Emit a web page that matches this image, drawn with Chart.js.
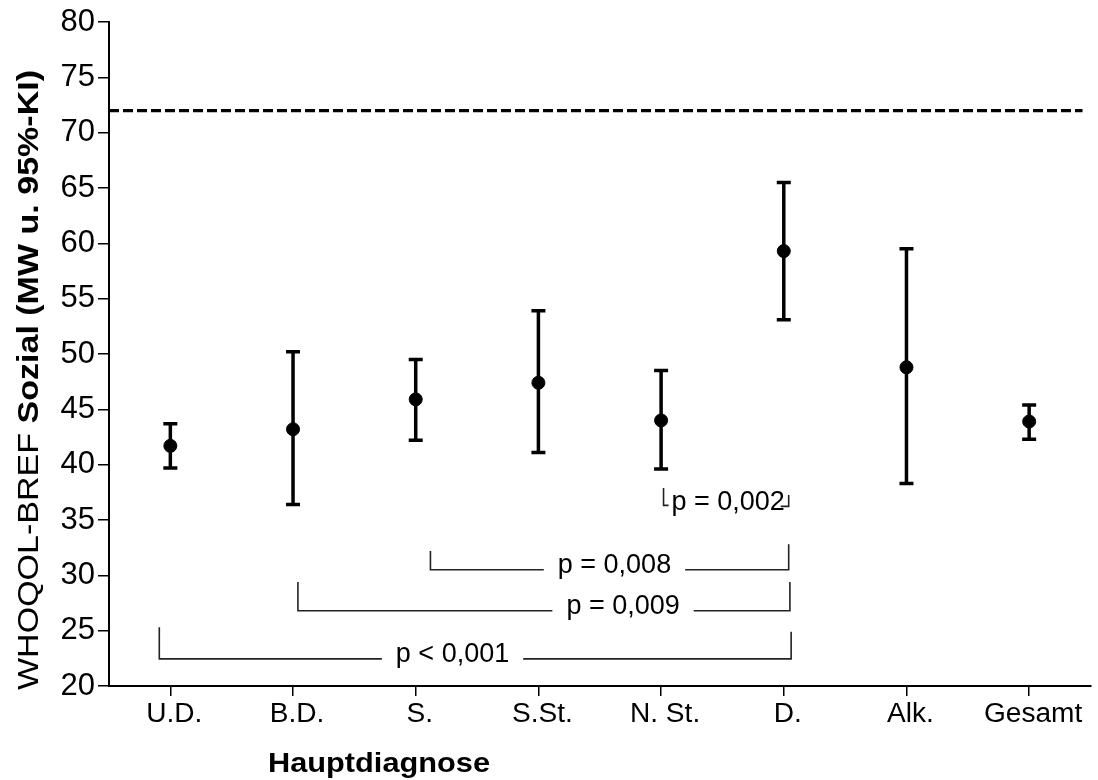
<!DOCTYPE html>
<html lang="de">
<head>
<meta charset="UTF-8">
<title>WHOQOL-BREF Sozial nach Hauptdiagnose</title>
<script src="https://cdn.jsdelivr.net/npm/chart.js"></script>
<style>
  body { margin: 0; background: #fff; }
  #wrap { width: 1098px; height: 780px; }
</style>
</head>
<body>
<div id="wrap"><canvas id="whoqolChart" width="1098" height="780"></canvas></div>
<script>
const categories = ['U.D.', 'B.D.', 'S.', 'S.St.', 'N. St.', 'D.', 'Alk.', 'Gesamt'];
const means   = [41.7, 43.2, 45.9, 47.4, 44.0, 59.3, 48.8, 43.9];
const ciLower = [39.7, 36.4, 42.2, 41.1, 39.6, 53.1, 38.3, 42.3];
const ciUpper = [43.7, 50.2, 49.5, 53.9, 48.5, 65.5, 59.5, 45.4];
const normValue = 72.0;          // dashed reference line
const yMin = 20, yMax = 80, yStep = 5;

// significance brackets (x in category index, y in scale units)
const pLabels   = ['p < 0,001', 'p = 0,009', 'p = 0,008'];
const pFrom     = [-0.09, 1.04, 2.12];
const pTo       = [5.06, 5.05, 5.04];
const pLineY    = [22.45, 26.8, 30.5];
const pTopLeft  = [25.3, 29.4, 32.2];
const pTopRight = [24.9, 29.4, 32.8];
const pTextX    = [2.30, 3.69, 3.62];

// the small one between N. St. and D.
const smallLabel = 'p = 0,002';
const smallFrom = 4.02, smallTo = 5.04, smallY = 36.5, smallTop = 37.9;

const FONT = "'Liberation Sans', Arial, sans-serif";

const overlay = {
    id: 'overlay',
    beforeDatasetsDraw(chart) {
        const { ctx, chartArea, scales: { x, y } } = chart;
        ctx.save();
        ctx.strokeStyle = '#000';

        // reference line
        ctx.lineWidth = 3.2;
        ctx.setLineDash([10, 4]);
        const yn = y.getPixelForValue(normValue);
        ctx.beginPath();
        ctx.moveTo(chartArea.left, yn);
        ctx.lineTo(chartArea.right - 8, yn);
        ctx.stroke();
        ctx.setLineDash([]);

        // error bars
        ctx.lineWidth = 3.5;
        categories.forEach((c, i) => {
            const xp = x.getPixelForValue(i);
            const lo = y.getPixelForValue(ciLower[i]);
            const hi = y.getPixelForValue(ciUpper[i]);
            ctx.beginPath();
            ctx.moveTo(xp, lo); ctx.lineTo(xp, hi);
            ctx.moveTo(xp - 7, lo); ctx.lineTo(xp + 7, lo);
            ctx.moveTo(xp - 7, hi); ctx.lineTo(xp + 7, hi);
            ctx.stroke();
        });

        // brackets
        ctx.lineWidth = 1.6;
        ctx.strokeStyle = '#222';
        ctx.fillStyle = '#000';
        ctx.font = '27px ' + FONT;
        ctx.textAlign = 'center';
        ctx.textBaseline = 'middle';
        pLabels.forEach((lab, i) => {
            const x0 = x.getPixelForValue(pFrom[i]);
            const x1 = x.getPixelForValue(pTo[i]);
            const yl = y.getPixelForValue(pLineY[i]);
            const tx = x.getPixelForValue(pTextX[i]);
            const half = ctx.measureText(lab).width / 2 + 14;
            ctx.beginPath();
            ctx.moveTo(x0, y.getPixelForValue(pTopLeft[i]));
            ctx.lineTo(x0, yl);
            ctx.lineTo(tx - half, yl);
            ctx.moveTo(tx + half, yl);
            ctx.lineTo(x1, yl);
            ctx.lineTo(x1, y.getPixelForValue(pTopRight[i]));
            ctx.stroke();
            ctx.fillText(lab, tx, yl - 4);
        });

        // small bracket p = 0,002
        const sx0 = x.getPixelForValue(smallFrom);
        const sx1 = x.getPixelForValue(smallTo);
        const sy = y.getPixelForValue(smallY);
        const st = y.getPixelForValue(smallTop);
        ctx.beginPath();
        ctx.moveTo(sx0, st); ctx.lineTo(sx0, sy + 2); ctx.lineTo(sx0 + 5, sy + 2);
        ctx.moveTo(sx1, st + 7); ctx.lineTo(sx1, sy + 3); ctx.lineTo(sx1 - 8, sy + 3);
        ctx.stroke();
        ctx.fillText(smallLabel, (sx0 + sx1) / 2 + 2, sy - 1);
        ctx.restore();
    },
    afterDraw(chart) {
        const { ctx, scales: { x } } = chart;
        ctx.save();
        ctx.fillStyle = '#000';

        // x tick labels
        ctx.font = '27px ' + FONT;
        ctx.textAlign = 'center';
        ctx.textBaseline = 'alphabetic';
        categories.forEach((c, i) => {
            ctx.save();
            ctx.translate(x.getPixelForValue(i) + 4, 722);
            ctx.scale(1.04, 1);
            ctx.fillText(c, 0, 0);
            ctx.restore();
        });

        // x axis title
        ctx.font = 'bold 28px ' + FONT;
        const xt = 'Hauptdiagnose';
        ctx.save();
        ctx.translate(379, 772);
        ctx.scale(222 / ctx.measureText(xt).width, 1);
        ctx.fillText(xt, 0, 0);
        ctx.restore();

        // y axis title, normal + bold part
        const t1 = 'WHOQOL-BREF ', t2 = 'Sozial (MW u. 95%-KI)';
        ctx.font = '30px ' + FONT;
        const w1 = ctx.measureText(t1).width;
        ctx.font = 'bold 30px ' + FONT;
        const w2 = ctx.measureText(t2).width;
        const total = w1 + w2;
        ctx.translate(38, 380);
        ctx.rotate(-Math.PI / 2);
        ctx.scale(620 / total, 1);
        ctx.textAlign = 'left';
        ctx.font = '30px ' + FONT;
        ctx.fillText(t1, -total / 2, 0);
        ctx.font = 'bold 30px ' + FONT;
        ctx.fillText(t2, -total / 2 + w1, 0);
        ctx.restore();
    }
};

const ctx = document.getElementById('whoqolChart').getContext('2d');
new Chart(ctx, {
    type: 'line',
    data: {
        labels: categories,
        datasets: [{
            label: 'Mittelwert',
            data: means,
            showLine: false,
            pointRadius: 6.5,
            pointHoverRadius: 6.5,
            pointBackgroundColor: '#000',
            pointBorderColor: '#000',
            borderColor: '#000'
        }]
    },
    options: {
        responsive: false,
        animation: false,
        layout: { padding: { top: 22, left: 0, right: 0, bottom: 0 } },
        plugins: {
            legend: { display: false },
            tooltip: { enabled: false },
            title: { display: false }
        },
        scales: {
            x: {
                offset: true,
                grid: {
                    display: true,
                    drawOnChartArea: false,
                    drawTicks: true,
                    tickLength: 10,
                    color: '#000',
                    lineWidth: 1.5
                },
                border: { display: true, color: '#000', width: 2 },
                ticks: { display: false },
                afterFit(scale) { scale.height = 94; }
            },
            y: {
                min: yMin,
                max: yMax,
                grid: {
                    display: true,
                    drawOnChartArea: false,
                    drawTicks: true,
                    tickLength: 11,
                    color: '#000',
                    lineWidth: 1.5
                },
                border: { display: true, color: '#000', width: 2 },
                ticks: {
                    stepSize: yStep,
                    color: '#000',
                    padding: 3,
                    font: { family: FONT, size: 31 }
                },
                afterFit(scale) { scale.width = 109; }
            }
        }
    },
    plugins: [overlay]
});
</script>
</body>
</html>
